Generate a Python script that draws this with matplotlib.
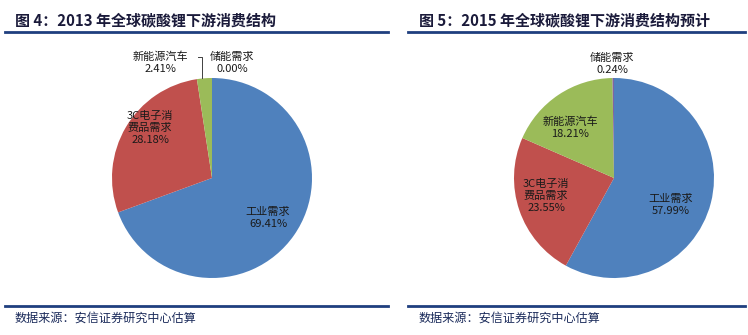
import matplotlib
matplotlib.use("Agg")
import matplotlib.pyplot as plt
from matplotlib.lines import Line2D

plt.rcParams['font.family'] = ['Noto Sans CJK SC', 'DejaVu Sans']

categories = ['工业需求', '3C电子消费品需求', '新能源汽车', '储能需求']
label_texts = ['工业需求', '3C电子消\n费品需求', '新能源汽车', '储能需求']
values_2013 = [69.41, 28.18, 2.41, 0.00]
values_2015 = [57.99, 23.55, 18.21, 0.24]
colors = ['#4F81BD', '#C0504D', '#9BBB59', '#8064A2']

title_left = '图 4：2013 年全球碳酸锂下游消费结构'
title_right = '图 5：2015 年全球碳酸锂下游消费结构预计'
source = '数据来源：安信证券研究中心估算'

W, H = 748, 335
fig = plt.figure(figsize=(W / 100, H / 100), dpi=100)

def make_ax(cx, cy, r):
    hw, hh = 150, 125
    ax = fig.add_axes([(cx - hw) / W, (H - cy - hh) / H, 2 * hw / W, 2 * hh / H])
    ax.set_xlim(-hw / r, hw / r)
    ax.set_ylim(-hh / r, hh / r)
    ax.set_aspect('equal')
    ax.axis('off')
    return ax

lab_kw = dict(ha='center', va='center', fontsize=8, color='#1a1a1a', linespacing=1.3)

ax1 = make_ax(212, 178, 100)
ax1.pie(values_2013, colors=colors, startangle=90, counterclock=False,
        radius=1, wedgeprops=dict(linewidth=0))
pos1 = [(0.56, -0.40), (-0.62, 0.50), (-0.52, 1.15), (0.20, 1.15)]
for i, (x, y) in enumerate(pos1):
    ax1.text(x, y, f'{label_texts[i]}\n{values_2013[i]:.2f}%', **lab_kw)
ax1.plot([-0.14, -0.10, -0.10], [1.21, 1.21, 1.0], color='#404040', lw=0.7)

ax2 = make_ax(614, 178, 102)
ax2.pie(values_2015, colors=colors, startangle=90, counterclock=False,
        radius=1, wedgeprops=dict(linewidth=0))
pos2 = [(0.57, -0.27), (-0.68, -0.18), (-0.44, 0.50), (-0.02, 1.14)]
for i, (x, y) in enumerate(pos2):
    ax2.text(x, y, f'{label_texts[i]}\n{values_2015[i]:.2f}%', **lab_kw)

navy = '#1F3F7F'
def hline(x0, x1, y, lw=2.0):
    fig.add_artist(Line2D([x0 / W, x1 / W], [1 - y / H, 1 - y / H], color=navy, lw=lw))

hline(5, 388, 32)
hline(408, 745, 32)
hline(5, 388, 306)
hline(408, 745, 306)

title_kw = dict(fontsize=10.8, fontweight='bold', color='#1a1a3a', va='center', ha='left')
fig.text(15 / W, 1 - 20 / H, title_left, **title_kw)
fig.text(419 / W, 1 - 20 / H, title_right, **title_kw)
src_kw = dict(fontsize=8.7, style='italic', color='#1a2a5a', va='center', ha='left')
fig.text(15 / W, 1 - 318 / H, source, **src_kw)
fig.text(419 / W, 1 - 318 / H, source, **src_kw)

fig.savefig('out.png', dpi=100)
